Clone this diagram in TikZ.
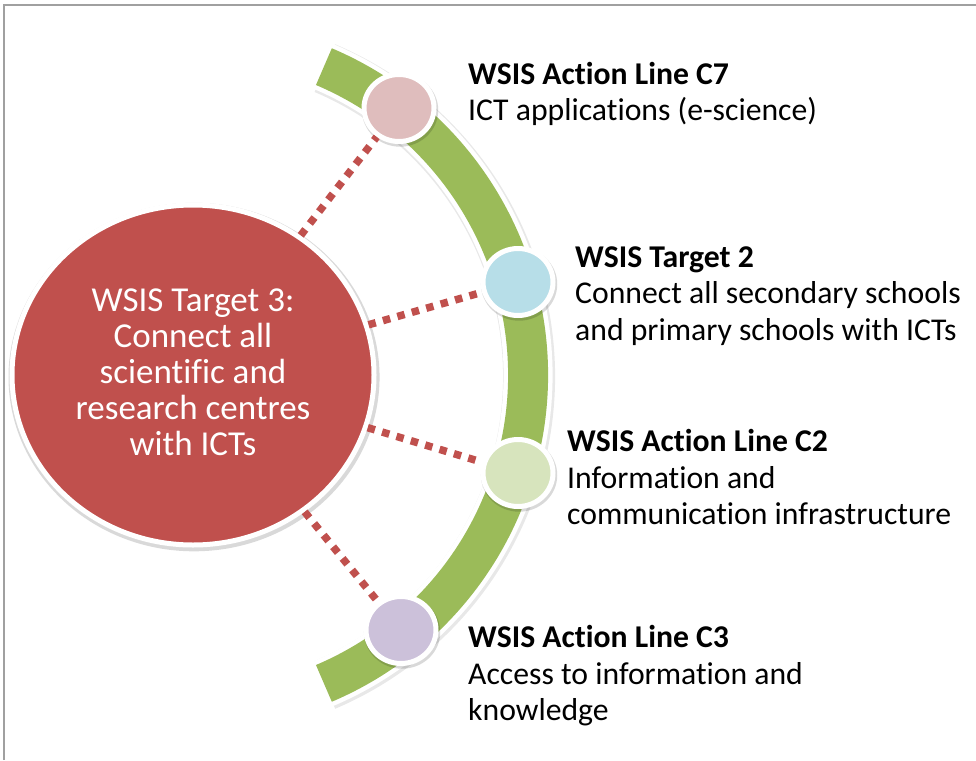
\documentclass[tikz,border=0pt]{standalone}
\usepackage{fontspec}
\setmainfont{Carlito}[Ligatures=NoCommon]
\usetikzlibrary{shapes.geometric,shadows}

\definecolor{hubred}{HTML}{C0504D}
\definecolor{bandgreen}{HTML}{9BBB59}
\definecolor{dotpink}{HTML}{DFBDBD}
\definecolor{dotblue}{HTML}{B7DEE8}
\definecolor{dotgreen}{HTML}{D7E4BD}
\definecolor{dotlilac}{HTML}{CCC1DA}
\definecolor{framegray}{HTML}{A0A0A0}

\tikzset{
  hubnode/.style={ellipse, fill=hubred, draw=white, line width=5,
    minimum width=362, minimum height=340, inner sep=0,
    text=white, align=center, font=\fontsize{35}{36}\selectfont,
    drop shadow={shadow xshift=1pt, shadow yshift=-2pt, shadow scale=1.025,
      opacity=0.15, fill=black}},
  dotnode/.style={ellipse, draw=white, line width=5,
    minimum width=70, minimum height=67, inner sep=0,
    drop shadow={shadow xshift=1pt, shadow yshift=-2pt, shadow scale=1.09,
      opacity=0.15, fill=black}},
  dotline/.style={draw=hubred, line width=7.5, dash pattern=on 7.5 off 7.5},
  lbl/.style={anchor=west, align=left, inner sep=0,
    font=\fontsize{31.7}{36.5}\selectfont},
}

\begin{document}
\begin{tikzpicture}[x=1pt, y=-1pt]
  \useasboundingbox (0,0) rectangle (976,760);

  % frame along the top and left edges
  \draw[framegray, line width=2] (4,760) -- (4,5) -- (976,5);

  % green arc band with white rim and a faint shade
  \coordinate (ctr) at (193,375);
  \draw[black!9, line width=52] ([shift={(1,1.5)}]ctr) ++(-67:335)
    arc[start angle=-67, end angle=67, radius=335];
  \draw[white, line width=49] (ctr) ++(-67:335)
    arc[start angle=-67, end angle=67, radius=335];
  \draw[bandgreen, line width=40] (ctr) ++(-67:335)
    arc[start angle=-67, end angle=67, radius=335];

  % central target
  \node[hubnode] (hub) at (ctr)
    {WSIS Target 3:\\Connect all\\scientific and\\research centres\\with ICTs\rule[-6pt]{0pt}{1pt}};

  % points on the arc
  \node[dotnode, fill=dotpink]  (c7) at (399,108) {};
  \node[dotnode, fill=dotblue]  (t2) at (518,282) {};
  \node[dotnode, fill=dotgreen] (c2) at (518,473) {};
  \node[dotnode, fill=dotlilac] (c3) at (401,630) {};

  % dotted links from the target to each point
  \draw[dotline] (hub) -- (c7);
  \draw[dotline] (hub) -- (t2);
  \draw[dotline] (hub) -- (c2);
  \draw[dotline] (hub) -- (c3);

  % labels
  \node[lbl] (l7) at (468,94)
    {\textbf{WSIS Action Line C7}\\ICT applications (e-science)};
  \node[lbl] (l2) at (575,296)
    {\textbf{WSIS Target 2}\\Connect all secondary schools\\and primary schools with ICTs};
  \node[lbl] (lc2) at (567,477)
    {\textbf{WSIS Action Line C2}\\Information and\\communication infrastructure};
  \node[lbl] (l3) at (468,676)
    {\textbf{WSIS Action Line C3}\\Access to information and\\knowledge};
\end{tikzpicture}
\end{document}
